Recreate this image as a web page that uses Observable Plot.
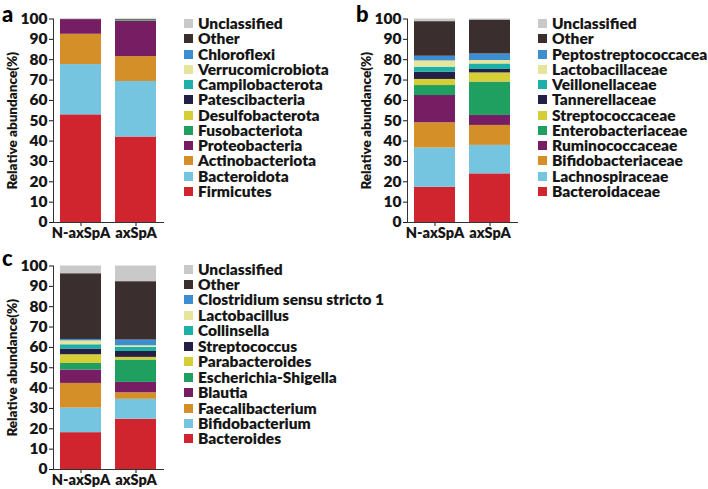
<!DOCTYPE html>
<html>
<head>
<meta charset="utf-8">
<script src="https://cdn.jsdelivr.net/npm/d3@7"></script>
<script src="https://cdn.jsdelivr.net/npm/@observablehq/plot@0.6"></script>
<style>
  html, body { margin: 0; padding: 0; background: #fff; }
  body { width: 708px; height: 489px; position: relative; overflow: hidden; font-family: Lato, "Noto Sans", sans-serif; font-weight: 800; }
  .panel { position: absolute; }
  .letter { position: absolute; font-size: 22px; font-weight: 900; line-height: normal; }
  .legend { position: absolute; font-size: 15.5px; font-weight: 800; color: #161616; }
  .legend .row { position: absolute; white-space: nowrap; display: flex; align-items: center; height: 15px; line-height: 15px; }
  .legend .sw { width: 9px; height: 9px; margin-right: 5px; flex: none; }
  .legend .tx { display: inline-block; height: 15px; line-height: 15px; overflow: visible; }
  g[aria-label="y-axis label"] text { font-size: 13.5px; }
</style>
</head>
<body>
<div id="root"></div>
<script>
const groups = ["N-axSpA", "axSpA"];
const yTicks = [0, 10, 20, 30, 40, 50, 60, 70, 80, 90, 100];
const palette = ["#d0242f", "#75c5e1", "#d48f28", "#761d63", "#20a060", "#d5ce37", "#231f45", "#1db0a8", "#e6e59b", "#3c8ed1", "#3b2e2f", "#c9c9c9"];

// Panel a (phylum), stacking order bottom -> top
const taxaA = ["Firmicutes", "Bacteroidota", "Actinobacteriota", "Proteobacteria", "Fusobacteriota", "Desulfobacterota", "Patescibacteria", "Campilobacterota", "Verrucomicrobiota", "Chloroflexi", "Other", "Unclassified"];
const nA = [52.9, 24.7, 14.9, 7.2, 0.05, 0.03, 0.02, 0.02, 0.02, 0.01, 0.05, 0.1];
const aA = [42.0, 27.3, 12.2, 17.4, 0.3, 0.05, 0.05, 0.05, 0.05, 0.05, 0.35, 0.2];

// Panel b (family)
const taxaB = ["Bacteroidaceae", "Lachnospiraceae", "Bifidobacteriaceae", "Ruminococcaceae", "Enterobacteriaceae", "Streptococcaceae", "Tannerellaceae", "Veillonellaceae", "Lactobacillaceae", "Peptostreptococcacea", "Other", "Unclassified"];
const nB = [17.3, 19.3, 12.4, 13.4, 4.9, 3.0, 3.6, 2.4, 3.1, 2.3, 17.0, 1.3];
const aB = [23.9, 14.0, 9.8, 4.9, 16.4, 4.5, 1.7, 2.7, 1.7, 3.2, 16.7, 0.5];

// Panel c (genus)
const taxaC = ["Bacteroides", "Bifidobacterium", "Faecalibacterium", "Blautia", "Escherichia-Shigella", "Parabacteroides", "Streptococcus", "Collinsella", "Lactobacillus", "Clostridium sensu stricto 1", "Other", "Unclassified"];
const nC = [18.1, 12.1, 12.1, 6.6, 3.2, 4.3, 2.8, 2.1, 1.9, 0.7, 32.3, 3.8];
const aC = [24.7, 9.8, 3.2, 5.1, 11.0, 1.3, 2.9, 2.0, 0.8, 2.8, 28.7, 7.7];

const root = document.getElementById("root");

function panel({taxa, nVals, aVals, left, top, letter, legendLeft, legendTop, legendStep}) {
  const rows = [];
  taxa.forEach((t, i) => {
    rows.push({group: groups[0], taxon: t, value: nVals[i]});
    rows.push({group: groups[1], taxon: t, value: aVals[i]});
  });
  const plot = Plot.plot({
    width: 175,
    height: 245,
    marginLeft: 53,
    marginRight: 12,
    marginTop: 18.5,
    marginBottom: 23,
    style: {fontFamily: "Lato, 'Noto Sans', sans-serif", fontWeight: 800, fontSize: "15px", color: "#161616", background: "transparent", overflow: "visible"},
    x: {type: "band", domain: groups, paddingInner: 0.255, paddingOuter: 0.12, label: null},
    y: {domain: [0, 100], label: null},
    color: {domain: taxa, range: palette},
    marks: [
      Plot.barY(rows, Plot.stackY({x: "group", y: "value", fill: "taxon", order: taxa})),
      Plot.axisY({ticks: yTicks, tickSize: 4, tickPadding: 2, fontSize: 15.5, fontWeight: 800, label: "Relative abundance(%)", labelAnchor: "center", labelOffset: 46, labelArrow: "none"}),
      Plot.axisX({tickSize: 4, tickPadding: 1, fontSize: 14.5, fontWeight: 800, label: null}),
      Plot.frame({anchor: "left", stroke: "#333"}),
      Plot.frame({anchor: "bottom", stroke: "#333"})
    ]
  });
  plot.classList.add("panel");
  plot.style.left = left + "px";
  plot.style.top = top + "px";
  root.appendChild(plot);

  const l = document.createElement("div");
  l.className = "letter";
  l.textContent = letter;
  l.style.left = (left + 2) + "px";
  l.style.top = (top + (top > 0 ? -3 : 0)) + "px";
  root.appendChild(l);

  const leg = document.createElement("div");
  leg.className = "legend";
  leg.style.left = legendLeft + "px";
  leg.style.top = legendTop + "px";
  const order = taxa.slice().reverse();
  order.forEach((t, i) => {
    const r = document.createElement("div");
    r.className = "row";
    r.style.top = (i * legendStep - 7.5) + "px";
    const sw = document.createElement("span");
    sw.className = "sw";
    sw.style.background = palette[taxa.indexOf(t)];
    const tx = document.createElement("span");
    tx.className = "tx";
    tx.textContent = t;
    r.appendChild(sw); r.appendChild(tx);
    leg.appendChild(r);
  });
  root.appendChild(leg);
}

panel({taxa: taxaA, nVals: nA, aVals: aA, left: 0, top: 0, letter: "a", legendLeft: 184, legendTop: 23.5, legendStep: 15.27});
panel({taxa: taxaB, nVals: nB, aVals: aB, left: 354, top: 0, letter: "b", legendLeft: 538, legendTop: 23.5, legendStep: 15.27});
panel({taxa: taxaC, nVals: nC, aVals: aC, left: 0, top: 246.5, letter: "c", legendLeft: 184, legendTop: 269, legendStep: 15.45});
</script>
</body>
</html>
